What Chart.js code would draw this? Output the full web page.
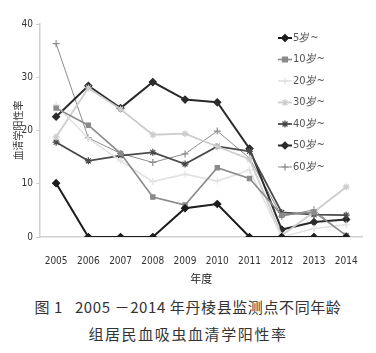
<!DOCTYPE html>
<html>
<head>
<meta charset="utf-8">
<script src="https://cdn.jsdelivr.net/npm/chart.js@4.4.0/dist/chart.umd.min.js"></script>
<style>
  body { margin: 0; background: #fff; width: 376px; height: 353px; overflow: hidden; }
  #wrap { position: relative; width: 376px; height: 285px; }
  .cap { font-family: 'Noto Sans CJK SC', sans-serif; color: #333; text-align: center; font-size: 15px; letter-spacing: 0.6px; }
  #cap1 { position: absolute; top: 296px; left: 0; width: 376px; }
  #cap2 { position: absolute; top: 323px; left: 0; width: 376px; letter-spacing: 1.6px; }
</style>
</head>
<body>
<div id="wrap"><canvas id="chart" width="376" height="285"></canvas></div>
<div id="cap1" class="cap">图 1&nbsp;&nbsp;&nbsp;2005 －2014 年丹棱县监测点不同年龄</div>
<div id="cap2" class="cap">组居民血吸虫血清学阳性率</div>
<script>
// years and serology positive rate (%) per age group
var years = ['2005', '2006', '2007', '2008', '2009', '2010', '2011', '2012', '2013', '2014'];
var groupNames = ['5岁~', '10岁~', '20岁~', '30岁~', '40岁~', '50岁~', '60岁~'];
var age5  = [10.1, 0, 0, 0, 5.4, 6.2, 0, 0, 0, 0];
var age10 = [24.2, 21.0, 15.7, 7.5, 6.0, 13.0, 11.0, 4.1, 4.7, 0.3];
var age20 = [24.8, 18.5, 14.3, 10.4, 11.8, 10.5, 12.6, 0, 1.6, 2.3];
var age30 = [18.8, 28.0, 24.0, 19.2, 19.4, 17.0, 14.6, 0.3, 4.7, 9.4];
var age40 = [17.8, 14.3, 15.3, 15.9, 13.7, 17.0, 16.1, 4.6, 4.2, 4.1];
var age50 = [22.6, 28.4, 24.2, 29.1, 25.8, 25.3, 16.6, 1.4, 2.8, 3.3];
var age60 = [36.3, 18.6, 15.7, 14.0, 15.6, 19.9, 14.8, 3.9, 5.1, 0.2];
var yTicks = [0, 10, 20, 30, 40];

var seriesData = [age5, age10, age20, age30, age40, age50, age60];
var colors = ['#1c1c1c', '#8a8a8a', '#e2e2e2', '#cdcdcd', '#4a4a4a', '#2b2b2b', '#8c8c8c'];
var markers = ['rectRot', 'rect', 'cross', 'star', 'star', 'rectRot', 'cross'];
var widths = [2, 1.6, 1.6, 1.8, 1.8, 2, 1];

var narrow = "'Liberation Sans Narrow', 'DejaVu Sans Condensed', sans-serif";

var datasets = groupNames.map(function(name, i) {
  return {
    label: name,
    data: seriesData[i],
    borderColor: colors[i],
    backgroundColor: colors[i],
    borderWidth: widths[i],
    pointStyle: markers[i],
    pointRadius: markers[i] === 'rect' ? 3 : 3.5,
    pointBorderWidth: 1.2,
    tension: 0
  };
});

// legend drawn inside the plot, like the figure
var innerLegend = {
  id: 'innerLegend',
  afterDraw: function(chart) {
    var ctx = chart.ctx;
    var x0 = 278, y0 = 38, step = 21.5;
    ctx.save();
    chart.data.datasets.forEach(function(ds, i) {
      var y = y0 + i * step;
      ctx.strokeStyle = ds.borderColor;
      ctx.fillStyle = ds.borderColor;
      ctx.lineWidth = ds.borderWidth;
      ctx.beginPath();
      ctx.moveTo(x0, y);
      ctx.lineTo(x0 + 14, y);
      ctx.stroke();
      ctx.lineWidth = 1.2;
      Chart.helpers.drawPoint(ctx, {pointStyle: ds.pointStyle, radius: 3.5, rotation: 0, borderWidth: 1.2}, x0 + 7, y);
      ctx.fillStyle = '#555';
      ctx.font = '11px ' + narrow;
      ctx.textBaseline = 'middle';
      ctx.textAlign = 'left';
      ctx.fillText(ds.label, x0 + 15, y);
    });
    ctx.restore();
  }
};

var chart = new Chart('chart', {
  type: 'line',
  data: { labels: years, datasets: datasets },
  plugins: [innerLegend],
  options: {
    responsive: false,
    animation: false,
    layout: { padding: { left: 10, right: 7, top: 24, bottom: 0 } },
    plugins: { legend: { display: false }, tooltip: { enabled: false } },
    scales: {
      x: {
        offset: true,
        grid: { display: false, drawTicks: false },
        border: { color: '#d0d0d0', width: 1.5 },
        ticks: { color: '#333', font: { family: narrow, size: 10 }, padding: 18, maxRotation: 0 },
        title: { display: true, text: '年度', color: '#222', font: { family: "'Noto Sans CJK SC', sans-serif", size: 11 }, padding: { top: 3, bottom: 0 } },
        afterFit: function(scale) { scale.height = 48; }
      },
      y: {
        min: 0, max: 40,
        afterBuildTicks: function(scale) { scale.ticks = yTicks.map(function(v) { return {value: v}; }); },
        grid: { drawOnChartArea: false, tickLength: 4, color: '#cfcfcf' },
        border: { color: '#d0d0d0', width: 1.5 },
        ticks: { color: '#333', font: { family: narrow, size: 10 }, padding: 3 },
        title: { display: true, text: '血清学阳性率', color: '#333', font: { family: "'Noto Sans CJK SC', sans-serif", size: 10 }, padding: { top: 2, bottom: 0 } },
        afterFit: function(scale) { scale.width = 30; }
      }
    }
  }
});
</script>
</body>
</html>
